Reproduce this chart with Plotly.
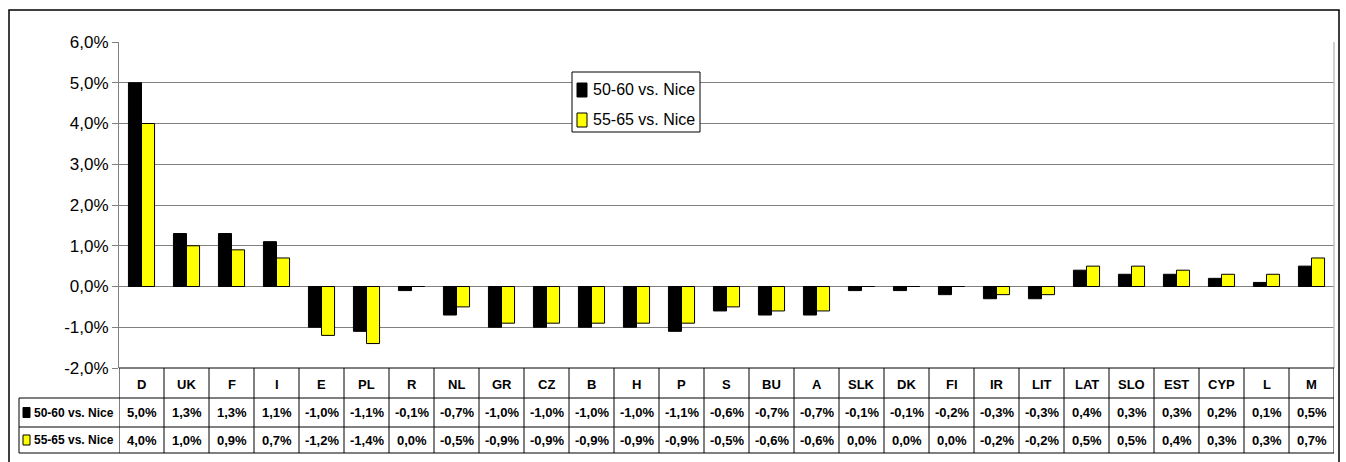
import plotly.graph_objects as go

categories = ["D", "UK", "F", "I", "E", "PL", "R", "NL", "GR", "CZ", "B", "H", "P", "S", "BU", "A",
              "SLK", "DK", "FI", "IR", "LIT", "LAT", "SLO", "EST", "CYP", "L", "M"]
s1_name = "50-60 vs. Nice"
s2_name = "55-65 vs. Nice"
s1 = [5.0, 1.3, 1.3, 1.1, -1.0, -1.1, -0.1, -0.7, -1.0, -1.0, -1.0, -1.0, -1.1, -0.6, -0.7, -0.7,
      -0.1, -0.1, -0.2, -0.3, -0.3, 0.4, 0.3, 0.3, 0.2, 0.1, 0.5]
s2 = [4.0, 1.0, 0.9, 0.7, -1.2, -1.4, 0.0, -0.5, -0.9, -0.9, -0.9, -0.9, -0.9, -0.5, -0.6, -0.6,
      0.0, 0.0, 0.0, -0.2, -0.2, 0.5, 0.5, 0.4, 0.3, 0.3, 0.7]
colors = ["#000000", "#FFFF00"]
y_ticks = [-2, -1, 0, 1, 2, 3, 4, 5, 6]

W, H = 1346, 462
def px(x):
    return x / W
def py(y):
    return 1 - y / H

def fmt(v):
    return f"{v:.1f}%".replace(".", ",")

N = len(categories)
xs = list(range(N))

fig = go.Figure()
for name, vals, col in [(s1_name, s1, colors[0]), (s2_name, s2, colors[1])]:
    fig.add_trace(go.Bar(x=xs, y=vals, name=name, showlegend=False, hoverinfo="skip",
                         marker=dict(color=col, line=dict(color="#000000", width=1))))

TXT = "Liberation Sans, Arial, sans-serif"
shapes = []
annotations = []

def ann(x, y, text, xref="paper", size=12, xanchor="center"):
    annotations.append(dict(x=x, y=y, xref=xref, yref="paper", text=text, xanchor=xanchor, yanchor="middle",
                            showarrow=False, font=dict(family=TXT, size=size, color="#000")))

# outer border
shapes.append(dict(type="rect", xref="paper", yref="paper", x0=px(9), x1=px(1339), y0=py(480), y1=py(10),
                   line=dict(color="#000000", width=1.5), fillcolor="rgba(0,0,0,0)"))
# right edge of plot area
shapes.append(dict(type="line", xref="paper", yref="paper", x0=px(1334), x1=px(1334), y0=py(42), y1=py(368),
                   line=dict(color="#c0c0c0", width=1.5)))

# table
y_top, y_r1, y_r2, y_bot = 368, 398, 427, 453
shapes.append(dict(type="line", xref="x", yref="paper", x0=-0.5, x1=N - 0.5, y0=py(y_top), y1=py(y_top),
                   line=dict(color="#000000", width=1)))
for yy in [y_r1, y_r2, y_bot]:
    shapes.append(dict(type="line", xref="paper", yref="paper", x0=px(19), x1=px(1334), y0=py(yy), y1=py(yy),
                       line=dict(color="#000000", width=1)))
for i in range(N + 1):
    shapes.append(dict(type="line", xref="x", yref="paper", x0=i - 0.5, x1=i - 0.5, y0=py(y_top), y1=py(y_bot),
                       line=dict(color="#000000", width=1)))
shapes.append(dict(type="line", xref="paper", yref="paper", x0=px(19), x1=px(19), y0=py(y_r1), y1=py(y_bot),
                   line=dict(color="#000000", width=1)))

rows = [(s1_name, s1, colors[0], (y_r1 + y_r2) / 2), (s2_name, s2, colors[1], (y_r2 + y_bot) / 2)]
for name, vals, col, yc in rows:
    shapes.append(dict(type="rect", xref="paper", yref="paper", x0=px(23), x1=px(30), y0=py(yc + 5), y1=py(yc - 5),
                       fillcolor=col, line=dict(color="#000000", width=1)))
    ann(px(32), py(yc), f"<b>{name}</b>", xanchor="left")
    for i, v in enumerate(vals):
        ann(i, py(yc), f"<b>{fmt(v)}</b>", xref="x", size=13)
for i, c in enumerate(categories):
    ann(i, py((y_top + y_r1) / 2 + 1), f"<b>{c}</b>", xref="x", size=13)

# legend box (manual)
lx0, lx1, ly0, ly1 = 572, 700, 72, 132
shapes.append(dict(type="rect", xref="paper", yref="paper", x0=px(lx0), x1=px(lx1), y0=py(ly1), y1=py(ly0),
                   fillcolor="white", line=dict(color="#000000", width=1), layer="above"))
for k, (name, vals, col, _) in enumerate(rows):
    yc = 90 + k * 30
    shapes.append(dict(type="rect", xref="paper", yref="paper", x0=px(577), x1=px(587), y0=py(yc + 7), y1=py(yc - 7),
                       fillcolor=col, line=dict(color="#000000", width=1), layer="above"))
    ann(px(591), py(yc), name, size=16, xanchor="left")

fig.update_layout(
    width=W, height=H, autosize=False,
    margin=dict(l=0, r=0, t=0, b=0, pad=0, autoexpand=False),
    paper_bgcolor="white", plot_bgcolor="white",
    barmode="group", bargap=0.42, bargroupgap=0,
    showlegend=False, hovermode=False,
    font=dict(family=TXT, size=16, color="#000"),
    xaxis=dict(domain=[px(119), px(1334)], range=[-0.5, N - 0.5], showticklabels=False, showgrid=False,
               zeroline=False, showline=False, fixedrange=True, automargin=False),
    yaxis=dict(domain=[py(368), py(42)], range=[-2, 6], tickvals=y_ticks, automargin=False, fixedrange=True,
               ticktext=[fmt(v) for v in y_ticks], showgrid=True, gridcolor="#808080", gridwidth=1,
               zeroline=True, zerolinecolor="#808080", zerolinewidth=1,
               showline=True, linecolor="#808080", linewidth=1, ticks="outside", ticklen=6,
               tickcolor="#808080", tickfont=dict(size=17)),
    shapes=shapes, annotations=annotations,
)

fig.write_html("out.html", config={"displayModeBar": False},
               post_script="document.body.style.margin='0';document.body.style.overflow='hidden';")
